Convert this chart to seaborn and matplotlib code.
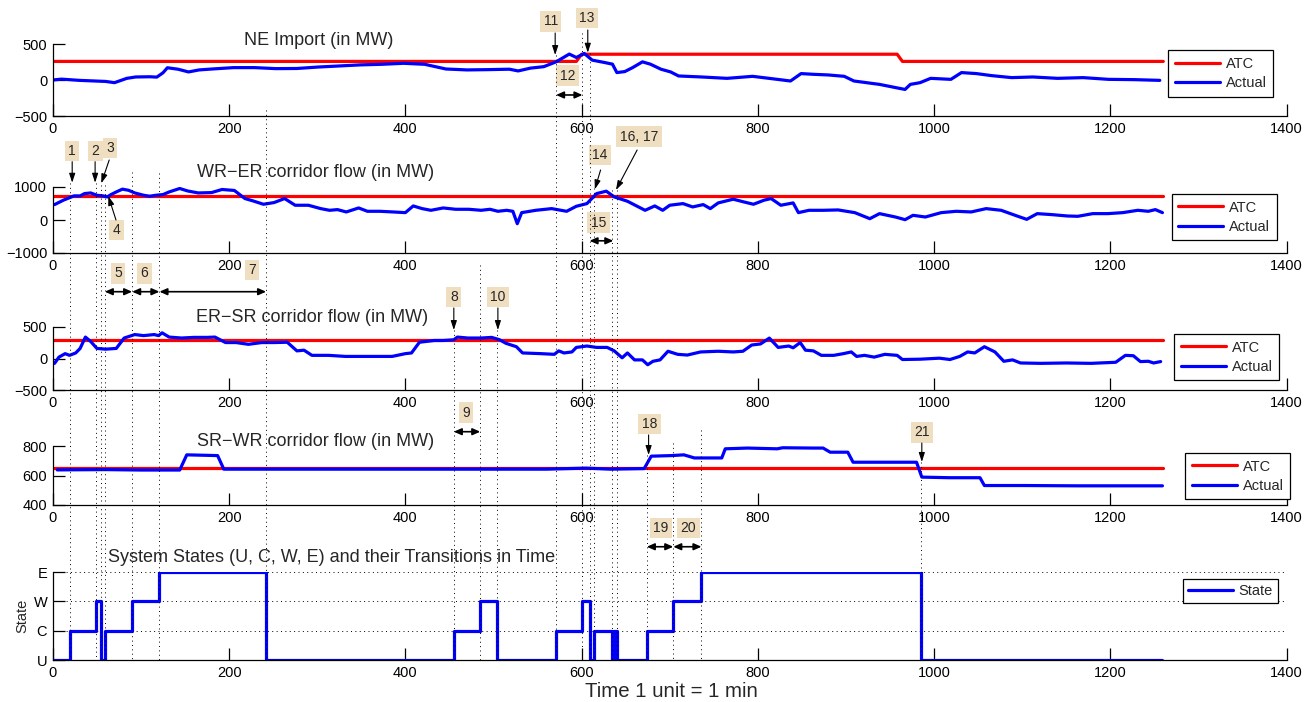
import numpy as np
import pandas as pd
import matplotlib
matplotlib.use("Agg")
import matplotlib.pyplot as plt
import matplotlib.transforms as mtransforms
from matplotlib.lines import Line2D
import seaborn as sns

# ---------------- data ----------------
ne_t = [0, 10, 30, 50, 60, 70, 84, 94, 110, 118, 125, 130, 142, 154, 166, 181, 205, 229, 253, 277,
        301, 325, 349, 373, 398, 422, 446, 470, 494, 518, 528, 542, 557, 571, 586, 594, 603, 612,
        626, 635, 640, 649, 658, 669, 678, 690, 701, 710, 736, 765, 794, 822, 837, 849, 863, 880,
        898, 909, 938, 961, 967, 973, 984, 996, 1019, 1031, 1048, 1065, 1088, 1112, 1140, 1169,
        1198, 1227, 1256]
ne_v = [0, 12, -5, -15, -20, -37, 23, 42, 45, 40, 100, 170, 150, 112, 140, 153, 172, 172, 158, 160,
        180, 195, 210, 218, 232, 218, 153, 140, 144, 150, 126, 165, 185, 252, 360, 313, 369, 276,
        243, 220, 103, 117, 173, 252, 220, 150, 112, 56, 42, 23, 51, 9, -14, 89, 79, 70,
        51, -14, -61, -117, -131, -61, -37, 23, 9, 103, 89, 61, 33, 42, 23, 33,
        9, 5, -5]
ne_atc_t = [0, 594, 600, 958, 964, 1260]
ne_atc_v = [258, 258, 358, 358, 258, 258]

wr_t = [2, 12, 24, 31, 36, 43, 50, 57, 62, 66, 72, 79, 86, 93, 103, 110, 117, 125, 132, 144, 153,
        165, 180, 192, 206, 218, 227, 239, 251, 263, 275, 290, 304, 314, 323, 333, 347, 357, 371,
        386, 400, 409, 419, 429, 443, 457, 472, 486, 496, 505, 515, 522, 527, 532, 548, 566, 583,
        594, 606, 617, 628, 637, 652, 672, 683, 692, 700, 715, 726, 738, 746, 755, 772, 784, 795,
        807, 815, 826, 840, 846, 858, 874, 891, 910, 927, 938, 956, 967, 976, 990, 1008, 1025,
        1042, 1059, 1076, 1094, 1105, 1117, 1134, 1151, 1163, 1180, 1197, 1214, 1231, 1243, 1251,
        1259]
wr_v = [467, 600, 730, 730, 800, 820, 750, 730, 700, 770, 850, 935, 900, 820, 750, 720, 750, 770,
        850, 955, 880, 820, 830, 925, 895, 650, 580, 477, 528, 650, 447, 447, 345, 294, 315, 244,
        365, 264, 264, 244, 223, 426, 345, 294, 365, 325, 325, 294, 325, 264, 294, 264, -112, 223,
        294, 345, 264, 416, 497, 800, 873, 700, 568, 294, 426, 294, 447, 497, 396, 467, 345, 518,
        630, 548, 477, 600, 650, 447, 518, 223, 294, 294, 305, 223, 40, 193, 91, 10, 142, 91, 223,
        264, 244, 345, 294, 122, 20, 193, 162, 122, 112, 193, 193, 223, 294, 264, 315, 223]
wr_atc_t = [0, 1260]
wr_atc_v = [720, 720]

er_t = [2, 7, 14, 19, 26, 31, 37, 43, 50, 60, 72, 81, 93, 103, 115, 120, 124, 132, 146, 160, 175,
        184, 196, 208, 222, 237, 251, 266, 277, 285, 294, 313, 332, 352, 371, 385, 400, 407, 416,
        423, 433, 443, 455, 459, 471, 486, 498, 507, 514, 526, 533, 554, 569, 574, 580, 589, 594,
        606, 617, 629, 637, 646, 652, 660, 669, 675, 681, 689, 698, 709, 720, 735, 755, 772, 783,
        793, 803, 813, 823, 835, 840, 848, 854, 863, 872, 886, 897, 906, 912, 921, 932, 944, 958,
        964, 984, 1006, 1018, 1029, 1038, 1046, 1057, 1069, 1079, 1089, 1098, 1121, 1150, 1178,
        1206, 1217, 1226, 1234, 1243, 1249, 1257]
er_v = [-77, 22, 77, 50, 88, 160, 340, 270, 160, 148, 160, 325, 380, 363, 380, 363, 407, 340, 325,
        335, 335, 340, 253, 253, 225, 253, 253, 258, 121, 132, 50, 50, 33, 33, 33, 33, 77, 88, 258,
        270, 286, 286, 297, 340, 325, 325, 335, 297, 242, 187, 88, 77, 66, 121, 88, 104, 176, 198,
        176, 176, 121, 11, 88, -22, -22, -99, -44, -22, 115, 66, 55, 104, 115, 104, 115, 214, 231,
        324, 176, 198, 170, 253, 132, 121, 50, 50, 77, 104, 33, 50, 22, 66, 50, -16, -11, 5, -16,
        33, 104, 88, 187, 104, -44, -22, -71, -77, -71, -77, -60, 50, 44, -49, -44, -71, -49]
er_atc_t = [0, 1260]
er_atc_v = [300, 300]

sr_t = [5, 60, 100, 144, 152, 187, 194, 300, 450, 560, 605, 633, 671, 679, 702, 716, 728, 759, 763,
        788, 822, 828, 862, 874, 882, 902, 908, 960, 980, 986, 1017, 1052, 1057, 1103, 1161, 1259]
sr_v = [638, 640, 637, 637, 740, 735, 643, 643, 643, 643, 650, 643, 647, 731, 735, 740, 719, 719,
        781, 786, 781, 788, 786, 786, 758, 758, 690, 690, 690, 589, 585, 585, 532, 532, 530, 530]
sr_atc_t = [0, 1260]
sr_atc_v = [650, 650]

state_labels = ["U", "C", "W", "E"]
state_t = [0, 20, 49, 55, 59, 90, 121, 242, 455, 485, 504, 571, 601, 609, 614, 634, 637, 640,
           674, 704, 736, 985, 1258]
state_s = ["U", "C", "W", "U", "C", "W", "E", "U", "C", "W", "U", "C", "W", "U", "C", "U", "C", "U",
           "C", "W", "E", "U", "U"]

event_t = [20, 49, 55, 59, 90, 121, 242, 455, 485, 504, 571, 601, 609, 614, 634, 640, 674, 704, 736, 985]

titles = ["NE Import (in MW)", "WR\u2212ER corridor flow (in MW)", "ER\u2212SR corridor flow (in MW)",
          "SR\u2212WR corridor flow (in MW)", "System States (U, C, W, E) and their Transitions in Time"]
yticks = [[-500, 0, 500], [-1000, 0, 1000], [-500, 0, 500], [400, 600, 800], [0, 1, 2, 3]]
xticks = [0, 200, 400, 600, 800, 1000, 1200, 1400]

# ---------------- layout ----------------
W, H = 1312, 702
sns.set_style("white")
plt.rcParams["font.family"] = ["Liberation Sans", "DejaVu Sans"]
plt.rcParams["axes.unicode_minus"] = True

fig = plt.figure(figsize=(W / 100, H / 100), dpi=100)
left, width = 52.8 / W, 1233.9 / W
panel_px = [(44, 116), (187, 253), (327, 390), (446, 505), (572, 660)]
axes = []
for top, bot in panel_px:
    ax = fig.add_axes([left, 1 - bot / H, width, (bot - top) / H])
    axes.append(ax)

BOX = "#F0DEC0"
LW = 2.3


def style_axis(ax, yt, ylabels=None):
    ax.set_xlim(0, 1400)
    ax.set_ylim(yt[0], yt[-1])
    ax.set_xticks(xticks)
    ax.set_xticklabels([str(x) for x in xticks])
    ax.set_yticks(yt)
    if ylabels is not None:
        ax.set_yticklabels(ylabels)
    else:
        ax.set_yticklabels([("\u2212" + str(-v)) if v < 0 else str(v) for v in yt])
    for s in ["top", "right"]:
        ax.spines[s].set_visible(False)
    for s in ["left", "bottom"]:
        ax.spines[s].set_linewidth(0.9)
        ax.spines[s].set_color("black")
    ax.tick_params(bottom=True, left=True, top=False, right=False, direction="in", length=8.5,
                   width=0.9, labelsize=10.5, colors="black", pad=4)
    ax.set_xlabel("")
    ax.set_ylabel("")
    ax.patch.set_alpha(0)


series = [
    (ne_atc_t, ne_atc_v, ne_t, ne_v),
    (wr_atc_t, wr_atc_v, wr_t, wr_v),
    (er_atc_t, er_atc_v, er_t, er_v),
    (sr_atc_t, sr_atc_v, sr_t, sr_v),
]
legend_anchor = [(0.989, 0.91), (0.992, 0.894), (0.994, 0.889), (1.003, 0.881)]
title_pos = [(302, 486), (298, 1303), (294, 579), (298, 800)]

for i, (at, av, xt, xv) in enumerate(series):
    ax = axes[i]
    sns.lineplot(x=at, y=av, ax=ax, color=(1, 0, 0), lw=LW, label="ATC")
    sns.lineplot(x=xt, y=xv, ax=ax, color=(0, 0, 1), lw=LW, label="Actual")
    style_axis(ax, yticks[i])
    ax.legend(loc="upper right", bbox_to_anchor=legend_anchor[i], borderaxespad=0,
              frameon=True, fancybox=False, edgecolor="black", framealpha=1, fontsize=10.5,
              handlelength=3.1, handletextpad=0.4, borderpad=0.45, labelspacing=0.35)
    ax.get_legend().get_frame().set_linewidth(0.9)
    ax.text(title_pos[i][0], title_pos[i][1], titles[i], ha="center", va="baseline",
            fontsize=13, clip_on=False)

# state panel
ax5 = axes[4]
codes = [state_labels.index(s) for s in state_s]
sns.lineplot(x=state_t, y=codes, ax=ax5, color=(0, 0, 1), lw=LW, label="State",
             drawstyle="steps-post")
style_axis(ax5, yticks[4], state_labels)
ax5.yaxis.grid(True, linestyle=(0, (1, 3.5)), color="black", lw=0.7)
ax5.set_axisbelow(True)
ax5.legend(loc="upper right", bbox_to_anchor=(0.993, 0.92), borderaxespad=0, frameon=True,
           fancybox=False, edgecolor="black", framealpha=1, fontsize=10.5, handlelength=3.1,
           handletextpad=0.4, borderpad=0.35)
ax5.get_legend().get_frame().set_linewidth(0.9)
ax5.text(316, 3.34, titles[4], ha="center", va="baseline", fontsize=13, clip_on=False)
ax5.set_ylabel("State", fontsize=10.5)
ax5.yaxis.set_label_coords(-0.0193, 0.5)
fig.text(671 / W, 5 / H, "Time 1 unit = 1 min", ha="center", va="baseline", fontsize=14.7)

# vertical dotted event lines spanning panels
event_top_px = [183, 183, 185, 185, 172, 173, 110, 330, 265, 330, 55, 33, 53, 188, 190, 190,
                455, 443, 430, 462]
trans = mtransforms.blended_transform_factory(ax5.transData, fig.transFigure)
y_bottom = ax5.get_position().y0
for t, top in zip(event_t, event_top_px):
    fig.add_artist(Line2D([t, t], [1 - top / H, y_bottom], transform=trans, color="black",
                          lw=0.7, linestyle=(0, (1, 3.5)), zorder=1))


# ---------------- annotations ----------------
def box(ax, x, y, s):
    ax.text(x, y, s, ha="center", va="center", fontsize=10, clip_on=False, zorder=6,
            bbox=dict(boxstyle="square,pad=0.25", fc=BOX, ec="none"))


def arrow(ax, tail, tip):
    ax.annotate("", xy=tip, xytext=tail, annotation_clip=False, zorder=6,
                arrowprops=dict(arrowstyle="-|>,head_length=0.55,head_width=0.18", color="black",
                                lw=0.8, shrinkA=0, shrinkB=0))


def span(ax, t0, t1, y):
    ax.annotate("", xy=(t1, y), xytext=(t0, y), annotation_clip=False, zorder=6,
                arrowprops=dict(arrowstyle="<|-|>,head_length=0.45,head_width=0.2", color="black",
                                lw=1.2, shrinkA=0, shrinkB=0))


a1, a2, a3, a4 = axes[0], axes[1], axes[2], axes[3]
# panel 1
box(a1, 565, 819, "11"); arrow(a1, (570, 653), (570, 347))
box(a1, 606, 861, "13"); arrow(a1, (607, 694), (607, 379))
box(a1, 584, 56, "12"); span(a1, 571, 601, -208)
# panel 2
box(a2, 22, 2091, "1"); arrow(a2, (22, 1767), (22, 1130))
box(a2, 48, 2091, "2"); arrow(a2, (48, 1767), (48, 1130))
box(a2, 65, 2182, "3"); arrow(a2, (64, 1818), (55, 1112))
box(a2, 72.5, -303, "4"); arrow(a2, (71.7, 0), (63, 727))
box(a2, 74, -1615, "5"); span(a2, 59, 90, -2173)
box(a2, 104, -1615, "6"); span(a2, 90, 121, -2173)
box(a2, 226, -1515, "7"); span(a2, 121, 242, -2173)
box(a2, 621, 1970, "14"); arrow(a2, (621.5, 1515), (615, 930))
box(a2, 665, 2524, "16, 17"); arrow(a2, (663, 2121), (639, 909))
box(a2, 619, -76, "15"); span(a2, 609, 636, -630)
# panel 3
box(a3, 455, 976, "8"); arrow(a3, (455, 802), (455, 452))
box(a3, 505, 976, "10"); arrow(a3, (505, 802), (505, 452))
box(a3, 469, -862, "9"); span(a3, 455, 485, -1162)
# panel 4
box(a4, 677, 949, "18"); arrow(a4, (676, 875), (676, 739))
box(a4, 986, 892, "21"); arrow(a4, (986, 820), (986, 692))
box(a4, 690, 244, "19"); span(a4, 674, 704, 117)
box(a4, 721, 244, "20"); span(a4, 704, 736, 117)

fig.savefig("out.png", dpi=100)
